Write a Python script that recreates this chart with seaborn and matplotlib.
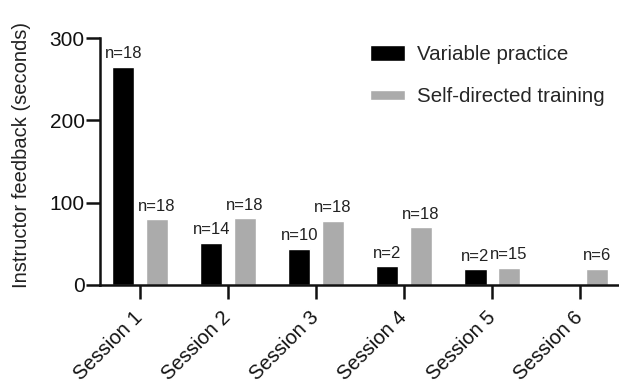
import matplotlib
matplotlib.use("Agg")
import matplotlib.pyplot as plt
import matplotlib.patches as mpatches
from matplotlib.legend_handler import HandlerPatch
import seaborn as sns
import pandas as pd

sessions = ["Session 1", "Session 2", "Session 3", "Session 4", "Session 5", "Session 6"]
variable_practice = [265, 51, 44, 23, 19, 0]
self_directed = [80, 81, 78, 70, 21, 20]
n_variable = ["n=18", "n=14", "n=10", "n=2", "n=2", ""]
n_self = ["n=18", "n=18", "n=18", "n=18", "n=15", "n=6"]
groups = ["Variable practice", "Self-directed training"]
colors = ["#000000", "#ababab"]

df = pd.DataFrame({
    "Session": sessions * 2,
    "Feedback": variable_practice + self_directed,
    "Group": [groups[0]] * len(sessions) + [groups[1]] * len(sessions),
})

sns.set_style("ticks")
plt.rcParams["font.family"] = ["Liberation Sans", "DejaVu Sans"]

fig = plt.figure(figsize=(6.19, 3.87), dpi=100)
ax = fig.add_axes([100 / 619, 1 - 285 / 387, 1 - 100 / 619, (285 - 38) / 387])

sns.barplot(data=df, x="Session", y="Feedback", hue="Group", hue_order=groups,
            palette=colors, width=0.76, gap=0.34,
            saturation=1, ax=ax, legend=True)

for cont, labels in zip(ax.containers, [n_variable, n_self]):
    ax.bar_label(cont, labels=labels, padding=4, fontsize=12, color="#222222")

ax.set_ylim(0, 300)
ax.set_yticks([0, 100, 200, 300])
ax.set_xlim(-0.455, 5.44)
ax.set_xlabel("")
ax.set_ylabel("Instructor feedback (seconds)", fontsize=14.5, color="#222222")
ax.yaxis.set_label_coords(-0.133, 0.526)

for s in ["top", "right"]:
    ax.spines[s].set_visible(False)
for s in ["left", "bottom"]:
    ax.spines[s].set_linewidth(1.8)
    ax.spines[s].set_color("#111111")

ax.tick_params(axis="y", labelsize=15, width=1.8, length=10, colors="#111111", pad=1)
ax.tick_params(axis="x", labelsize=14.5, width=1.8, length=10, colors="#111111", pad=11)
for lab in ax.get_xticklabels():
    lab.set_rotation(45)
    lab.set_ha("right")
    lab.set_va("center")
    lab.set_rotation_mode("anchor")


def make_patch(legend, orig_handle, xdescent, ydescent, width, height, fontsize):
    fc = orig_handle.get_facecolor()
    if fc[0] > 0.3:
        h = height * 0.6
        return mpatches.Rectangle((-xdescent, -ydescent + (height - h) / 2), width, h)
    return mpatches.Rectangle((-xdescent, -ydescent), width, height)


handles, labels = ax.get_legend_handles_labels()
ax.legend(handles, labels, loc="upper left", bbox_to_anchor=(370 / 619, 1 - 45 / 387),
          bbox_transform=fig.transFigure, frameon=False, fontsize=14.8,
          borderpad=0, borderaxespad=0, handlelength=1.7, handleheight=0.85,
          handletextpad=0.6, labelspacing=1.1,
          handler_map={mpatches.Rectangle: HandlerPatch(patch_func=make_patch)})

fig.savefig("out.png", dpi=100)
